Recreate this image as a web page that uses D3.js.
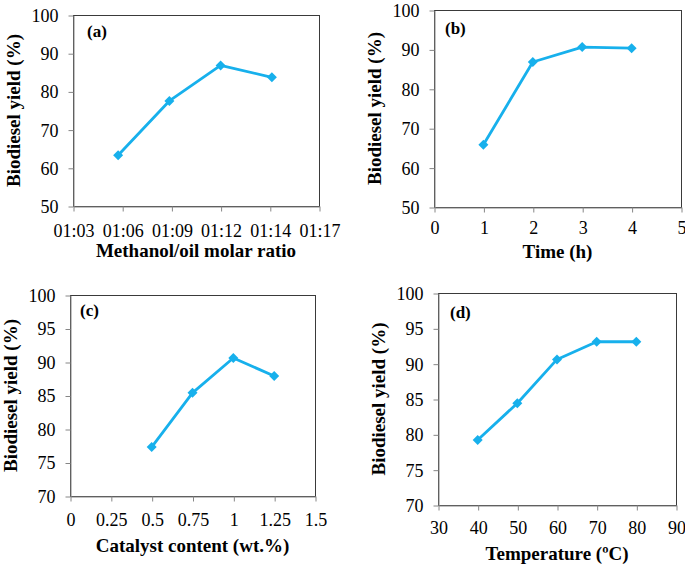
<!DOCTYPE html>
<html>
<head>
<meta charset="utf-8">
<script src="https://cdn.jsdelivr.net/npm/d3@7"></script>
<style>
  html, body { margin: 0; padding: 0; background: #fff; }
  svg { display: block; }
  text { font-family: "Liberation Serif", "Times New Roman", serif; fill: #000; }
</style>
</head>
<body>
<svg id="chart" width="685" height="567"></svg>
<script>
// ---------- data ----------
// (a) methanol/oil molar ratio stored as Excel times (minutes): 1:6, 1:9, 1:12, 1:15
const ratioX = [66, 69, 72, 75];
const ratioY = [63.3, 77.5, 86.8, 83.7];
const ratioTicks = [63.36, 66.24, 69.12, 72, 74.88, 77.76];
const ratioTickLabels = ["01:03", "01:06", "01:09", "01:12", "01:14", "01:17"];

// (b) time
const timeX = [1, 2, 3, 4];
const timeY = [65.8, 86.8, 90.6, 90.3];
const timeTicks = [0, 1, 2, 3, 4, 5];
const timeTickLabels = ["0", "1", "2", "3", "4", "5"];

// (c) catalyst content
const catX = [0.5, 0.75, 1, 1.25];
const catY = [77.3, 85.4, 90.6, 87.9];
const catTicks = [0, 0.25, 0.5, 0.75, 1, 1.25, 1.5];
const catTickLabels = ["0", "0.25", "0.5", "0.75", "1", "1.25", "1.5"];

// (d) temperature
const tempX = [40, 50, 60, 70, 80];
const tempY = [79.2, 84.4, 90.6, 93.1, 93.1];
const tempTicks = [30, 40, 50, 60, 70, 80, 90];
const tempTickLabels = ["30", "40", "50", "60", "70", "80", "90"];

const yTicksTop = [50, 60, 70, 80, 90, 100];
const yTicksBottom = [70, 75, 80, 85, 90, 95, 100];

const panelLabels = ["(a)", "(b)", "(c)", "(d)"];
const xTitles = ["Methanol/oil molar ratio", "Time (h)", "Catalyst content (wt.%)", "Temperature (ºC)"];
const yTitle = "Biodiesel yield (%)";

// ---------- layout ----------
const svg = d3.select("#chart");
const LINE = "#17b0ec";
const AXIS = "#868686";
const BORDER = "#3a3a3a";
const FONT = '"Liberation Serif", "Times New Roman", serif';

const panels = [
  { xs: ratioX, ys: ratioY, xt: ratioTicks, xl: ratioTickLabels, yt: yTicksTop,
    box: { l: 73, r: 319, t: 15, b: 206 }, xtb: 236, titleB: 257, ytx: 20, lab: [14, 22] },
  { xs: timeX, ys: timeY, xt: timeTicks, xl: timeTickLabels, yt: yTicksTop,
    box: { l: 434, r: 681, t: 10, b: 207 }, xtb: 233, titleB: 258, ytx: 381, lab: [11, 24] },
  { xs: catX, ys: catY, xt: catTicks, xl: catTickLabels, yt: yTicksBottom,
    box: { l: 70, r: 315, t: 295, b: 496 }, xtb: 525, titleB: 552, ytx: 17, lab: [10, 21] },
  { xs: tempX, ys: tempY, xt: tempTicks, xl: tempTickLabels, yt: yTicksBottom,
    box: { l: 438, r: 676, t: 293, b: 505 }, xtb: 533, titleB: 560, ytx: 385, lab: [12, 25] }
];

panels.forEach((p, i) => {
  const B = p.box;
  const x = d3.scaleLinear().domain([p.xt[0], p.xt[p.xt.length - 1]]).range([B.l, B.r]);
  const y = d3.scaleLinear().domain([p.yt[0], p.yt[p.yt.length - 1]]).range([B.b, B.t]);
  const g = svg.append("g");

  // plot border
  g.append("rect")
    .attr("x", B.l + 0.5).attr("y", B.t + 0.5)
    .attr("width", B.r - B.l).attr("height", B.b - B.t)
    .attr("fill", "none").attr("stroke", BORDER).attr("stroke-width", 1);

  // x axis
  const xa = g.append("g").attr("transform", `translate(0.5,${B.b + 0.5})`)
    .call(d3.axisBottom(x).tickValues(p.xt).tickFormat((d, k) => p.xl[k])
      .tickSizeOuter(0).tickSizeInner(5).tickPadding(0));
  xa.attr("font-family", FONT);
  xa.select(".domain").attr("stroke", AXIS);
  xa.selectAll(".tick line").attr("stroke", AXIS);
  xa.selectAll(".tick text")
    .attr("y", p.xtb - B.b).attr("dy", null)
    .style("font-family", FONT)
    .style("font-size", "18px").attr("fill", "#000");

  // y axis
  const ya = g.append("g").attr("transform", `translate(${B.l + 0.5},0.5)`)
    .call(d3.axisLeft(y).tickValues(p.yt).tickFormat(d3.format("d"))
      .tickSizeOuter(0).tickSizeInner(5).tickPadding(10));
  ya.attr("font-family", FONT);
  ya.select(".domain").attr("stroke", AXIS);
  ya.selectAll(".tick line").attr("stroke", AXIS);
  ya.selectAll(".tick text")
    .attr("dy", "0.33em")
    .style("font-family", FONT)
    .style("font-size", "18px").attr("fill", "#000");

  // line + markers
  const pts = p.xs.map((v, k) => [v, p.ys[k]]);
  g.append("path")
    .datum(pts)
    .attr("fill", "none").attr("stroke", LINE).attr("stroke-width", 2.8)
    .attr("stroke-linejoin", "round")
    .attr("d", d3.line().x(d => x(d[0])).y(d => y(d[1])));
  const sym = d3.symbol().type(d3.symbolSquare).size(50);
  g.selectAll(".mk").data(pts).join("path")
    .attr("class", "mk")
    .attr("transform", d => `translate(${x(d[0])},${y(d[1])}) rotate(45)`)
    .attr("d", sym)
    .attr("fill", LINE);

  // panel label
  g.append("text")
    .attr("x", B.l + p.lab[0]).attr("y", B.t + p.lab[1])
    .style("font-family", FONT)
    .style("font-size", "17px").style("font-weight", "bold")
    .text(panelLabels[i]);

  // axis titles
  g.append("text")
    .attr("x", (B.l + B.r) / 2).attr("y", p.titleB)
    .attr("text-anchor", "middle")
    .style("font-family", FONT)
    .style("font-size", "19px").style("font-weight", "bold")
    .text(xTitles[i]);
  g.append("text")
    .attr("transform", `translate(${p.ytx},${(B.t + B.b) / 2}) rotate(-90)`)
    .attr("text-anchor", "middle")
    .style("font-family", FONT)
    .style("font-size", "19px").style("font-weight", "bold")
    .text(yTitle);
});
</script>
</body>
</html>
